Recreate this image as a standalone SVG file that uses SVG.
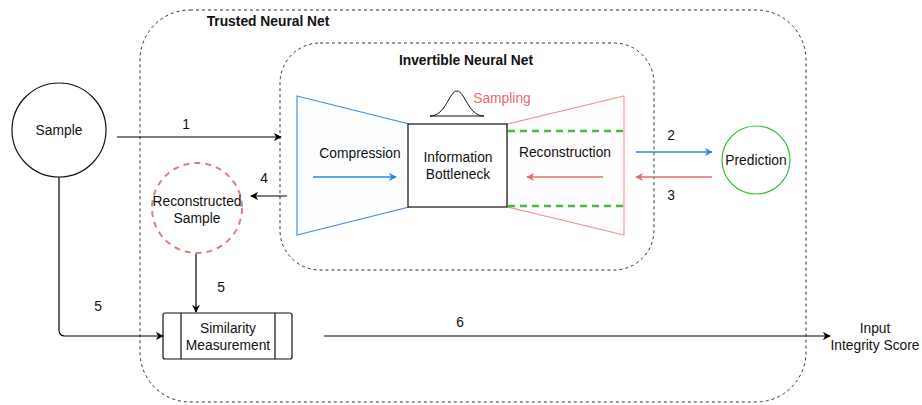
<svg xmlns="http://www.w3.org/2000/svg" width="922" height="405" viewBox="0 0 922 405">
<defs>
<marker id="ak" viewBox="0 0 10 10" refX="9" refY="5" markerWidth="8" markerHeight="8" orient="auto" markerUnits="userSpaceOnUse"><path d="M0,0 L10,5 L0,10 L3,5 Z" fill="#000"/></marker>
<marker id="ab" viewBox="0 0 10 10" refX="9" refY="5" markerWidth="8" markerHeight="8" orient="auto" markerUnits="userSpaceOnUse"><path d="M0,0 L10,5 L0,10 L3,5 Z" fill="#2f86d6"/></marker>
<marker id="ar" viewBox="0 0 10 10" refX="9" refY="5" markerWidth="8" markerHeight="8" orient="auto" markerUnits="userSpaceOnUse"><path d="M0,0 L10,5 L0,10 L3,5 Z" fill="#e86a6a"/></marker>
</defs>
<style>
text{font-family:"Liberation Sans",Arial,sans-serif;font-size:13.8px;fill:#111;text-anchor:middle}
.b{font-weight:bold}
.grp{fill:none;stroke:#333;stroke-width:1;stroke-dasharray:3 3}
.k{fill:none;stroke:#000;stroke-width:1.2}
.bl{fill:none;stroke:#2f86d6;stroke-width:1.3}
.rd{fill:none;stroke:#e86a6a;stroke-width:1.3}
</style>
<rect width="922" height="405" fill="#fff"/>
<g id="trusted">
<rect class="grp" x="140" y="10" width="666" height="392" rx="50" ry="50"/>
<text class="b" x="268" y="26">Trusted Neural Net</text>
</g>
<g id="invertible">
<rect class="grp" x="280" y="43" width="374" height="227" rx="40" ry="40"/>
<text class="b" x="466" y="65">Invertible Neural Net</text>
</g>
<g id="compression">
<polygon points="297,96 409,124 409,207 297,235" fill="#fbfdff" stroke="#4a95d6" stroke-width="1.2"/>
<text x="360" y="158">Compression</text>
</g>
<g id="reconstruction">
<polygon points="507,124 624,96 624,235 507,207" fill="#fffdfd" stroke="#ec9a9a" stroke-width="1.2"/>
<line x1="508" y1="131" x2="624" y2="131" stroke="#3cbf3c" stroke-width="2.5" stroke-dasharray="7 5"/>
<line x1="508" y1="206" x2="624" y2="206" stroke="#3cbf3c" stroke-width="2.5" stroke-dasharray="7 5"/>
<text x="565" y="157">Reconstruction</text>
</g>
<g id="bottleneck">
<rect x="408" y="124" width="99" height="83" fill="#fff" stroke="#222" stroke-width="1.3"/>
<text x="458" y="162">Information</text>
<text x="458" y="179">Bottleneck</text>
</g>
<g id="sampling">
<path d="M430,116 C446,116 449,91 457,91 C465,91 468,116 484,116" fill="none" stroke="#111" stroke-width="1"/>
<line x1="430" y1="116" x2="484" y2="116" stroke="#111" stroke-width="1"/>
<text x="502" y="103" style="fill:#e86a6a">Sampling</text>
</g>
<g id="sample">
<circle cx="59" cy="130" r="47" fill="#fff" stroke="#111" stroke-width="1.2"/>
<text x="59" y="135">Sample</text>
</g>
<g id="prediction">
<circle cx="756" cy="160" r="34" fill="#fff" stroke="#3cbf3c" stroke-width="1.2"/>
<text x="756" y="165">Prediction</text>
</g>
<g id="reconstructed">
<circle cx="197" cy="208" r="45" fill="#fff" stroke="#d98080" stroke-width="2" stroke-dasharray="6 5"/>
<text x="197" y="206">Reconstructed</text>
<text x="197" y="223">Sample</text>
</g>
<g id="similarity">
<rect x="163" y="313" width="129" height="46" rx="2" fill="#fff" stroke="#111" stroke-width="1.2"/>
<line x1="181" y1="313" x2="181" y2="359" stroke="#111" stroke-width="1.2"/>
<line x1="275" y1="313" x2="275" y2="359" stroke="#111" stroke-width="1.2"/>
<text x="228" y="333">Similarity</text>
<text x="228" y="350">Measurement</text>
</g>
<g id="output">
<text x="875" y="333">Input</text>
<text x="875" y="350">Integrity Score</text>
</g>
<g id="connectors">
<line class="k" x1="117" y1="137" x2="281" y2="137" marker-end="url(#ak)"/>
<text x="186" y="129">1</text>
<line class="bl" x1="313" y1="177" x2="396" y2="177" marker-end="url(#ab)"/>
<line class="rd" x1="603" y1="177" x2="527" y2="177" marker-end="url(#ar)"/>
<line class="bl" x1="636" y1="152" x2="712" y2="152" marker-end="url(#ab)"/>
<text x="671" y="140">2</text>
<line class="rd" x1="712" y1="177" x2="636" y2="177" marker-end="url(#ar)"/>
<text x="671" y="200">3</text>
<line class="k" x1="287" y1="196" x2="251" y2="196" marker-end="url(#ak)"/>
<text x="264" y="183">4</text>
<line class="k" x1="196" y1="254" x2="196" y2="312" marker-end="url(#ak)"/>
<text x="221" y="292">5</text>
<path class="k" d="M59,177 L59,330 Q59,336 65,336 L163,336" marker-end="url(#ak)"/>
<text x="98" y="311">5</text>
<line class="k" x1="324" y1="336" x2="830" y2="336" marker-end="url(#ak)"/>
<text x="460" y="327">6</text>
</g>
</svg>
